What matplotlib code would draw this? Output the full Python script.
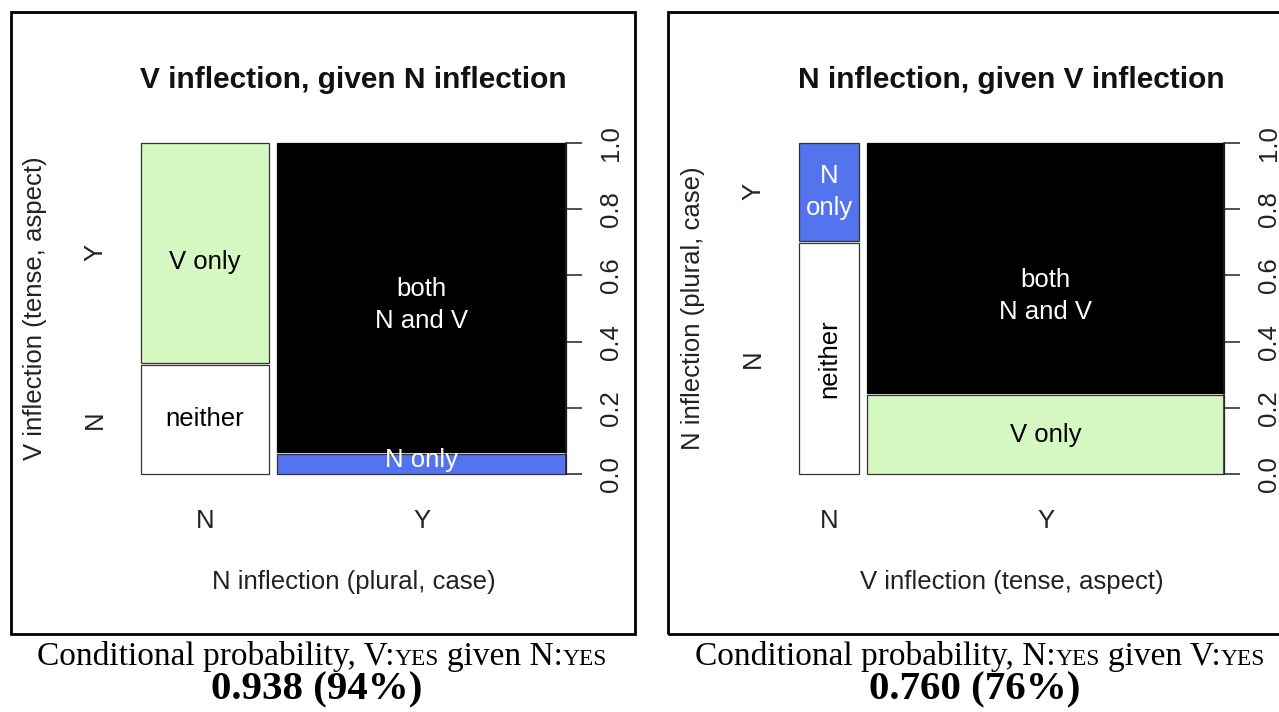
import matplotlib
matplotlib.use('Agg')
import matplotlib.pyplot as plt
from matplotlib.patches import Rectangle

W, H = 1279, 712
SANS = 'Liberation Sans'
SERIF = 'Liberation Serif'

# joint proportions: rows = N inflection (no, yes), cols = V inflection (no, yes)
levels = ['N', 'Y']
joint = [[0.102, 0.205],
         [0.043, 0.650]]
cell_names = [['neither', 'V only'],
              ['N only', 'both']]
cell_colors = {'neither': 'white', 'V only': '#d5f7c1', 'N only': '#5473ee', 'both': 'black'}
text_colors = {'neither': 'black', 'V only': 'black', 'N only': 'white', 'both': 'white'}

titles = ['V inflection, given N inflection', 'N inflection, given V inflection']
xlabels = ['N inflection (plural, case)', 'V inflection (tense, aspect)']
ylabels = ['V inflection (tense, aspect)', 'N inflection (plural, case)']
yticks = [0.0, 0.2, 0.4, 0.6, 0.8, 1.0]
cap_vars = [('V', 'N'), ('N', 'V')]
results = ['0.938 (94%)', '0.760 (76%)']

# layout in pixels
borders = [(11, 12, 635, 634), (668, 12, 1295, 634)]
axes_px = [(141, 143, 566, 474), (799, 143, 1224, 474)]
cap_cx = [322, 980]


def fx(x):
    return x / W


def fy(y):
    return 1 - y / H


def runs_text(fig, runs, cx, base_y, size, weight='normal'):
    r = fig.canvas.get_renderer()
    objs = []
    for s, scale in runs:
        if s is None:
            objs.append((None, scale * size * 100 / 72))
            continue
        t = fig.text(0, fy(base_y), s, fontsize=size * scale, family=SERIF,
                     weight=weight, va='baseline', ha='left')
        objs.append((t, t.get_window_extent(r).width))
    total = sum(w for _, w in objs)
    x = cx - total / 2
    for t, w in objs:
        if t is not None:
            t.set_x(fx(x))
        x += w


fig = plt.figure(figsize=(W / 100, H / 100), dpi=100)

for p in range(2):
    bx0, by0, bx1, by1 = borders[p]
    fig.patches.append(Rectangle((fx(bx0), fy(by1)), fx(bx1 - bx0), (by1 - by0) / H,
                                 transform=fig.transFigure, fill=False, lw=2, ec='black'))

    x0, y0, x1, y1 = axes_px[p]
    ax = fig.add_axes([fx(x0), fy(y1), fx(x1 - x0), (y1 - y0) / H])
    ax.set_xlim(0, 1)
    ax.set_ylim(0, 1)
    gapx = 8 / (x1 - x0)
    gapy = 2 / (y1 - y0)

    def prop(xi, yi):
        return joint[xi][yi] if p == 0 else joint[yi][xi]

    def name(xi, yi):
        return cell_names[xi][yi] if p == 0 else cell_names[yi][xi]

    shares = [prop(xi, 0) + prop(xi, 1) for xi in range(2)]
    total = sum(shares)
    left = 0
    col_centers = []
    first_col_centers = []
    for xi in range(2):
        w = shares[xi] / total * (1 - gapx)
        h0 = prop(xi, 0) / shares[xi] * (1 - gapy)
        spans = [(0, h0), (h0 + gapy, 1)]
        for yi in range(2):
            b, t = spans[yi]
            nm = name(xi, yi)
            ec = 'black' if nm == 'both' else '#333333'
            ax.add_patch(Rectangle((left, b), w, t - b, fc=cell_colors[nm], ec=ec, lw=0.9,
                                   clip_on=False))
            label = nm
            rot = 0
            if nm == 'both':
                label = 'both\nN and V'
            if w < 0.2:
                if nm == 'neither':
                    rot = 90
                else:
                    label = label.replace(' ', '\n')
            ty = (b + t) / 2
            if nm == 'both':
                ty = 0.5 + 0.15 * b
            elif nm == 'V only' and t > 0.9:
                ty -= 0.027
            elif nm == 'N only' and t < 0.1:
                ty += 0.01
            ax.text(left + w / 2, ty, label, ha='center', va='center', rotation=rot,
                    fontsize=18.5, family=SANS, color=text_colors[nm], linespacing=1.42)
            if xi == 0:
                first_col_centers.append((b + t) / 2)
        col_centers.append(left + w / 2)
        left += w + gapx

    for s in ['top', 'left', 'bottom']:
        ax.spines[s].set_visible(False)
    ax.spines['right'].set_color('#222222')
    ax.spines['right'].set_linewidth(1.1)
    ax.spines['right'].set_zorder(5)
    ax.set_xticks([])
    ax.yaxis.tick_right()
    ax.set_yticks(yticks)
    ax.set_yticklabels(['%.1f' % v for v in yticks])
    ax.tick_params(axis='y', length=16 * 0.72, width=1.1, color='#222222', pad=12,
                   labelsize=18.5, labelrotation=90)
    for lab in ax.get_yticklabels():
        lab.set_family(SANS)
        lab.set_va('center')
        lab.set_color('#222222')

    for xi in range(2):
        ax.annotate(levels[xi], (col_centers[xi], 0), xycoords=('data', 'axes fraction'),
                    xytext=(0, -47), textcoords='offset pixels', ha='center', va='center',
                    fontsize=18.5, family=SANS, color='#222222')
        ax.annotate(levels[xi], (0, first_col_centers[xi]), xycoords=('axes fraction', 'data'),
                    xytext=(-46, 0), textcoords='offset pixels', ha='center', va='center',
                    rotation=90, fontsize=18.5, family=SANS, color='#222222')

    cx = (x0 + x1) / 2
    fig.text(fx(cx), fy(y0 - 63), titles[p], ha='center', va='center', fontsize=21.5,
             weight='bold', family=SANS, color='#111111')
    fig.text(fx(cx), fy(y1 + 108), xlabels[p], ha='center', va='center', fontsize=18.5,
             family=SANS, color='#222222')
    fig.text(fx(x0 - 106), fy((y0 + y1) / 2), ylabels[p], ha='center', va='center',
             rotation=90, fontsize=18.5, family=SANS, color='#222222')

    a, b = cap_vars[p]
    runs = [('Conditional probability, ' + a + ':', 1.0), ('YES', 0.7), (None, 0.25),
            ('given ' + b + ':', 1.0), ('YES', 0.7)]
    runs_text(fig, runs, cap_cx[p], 665, 24)
    runs_text(fig, [(results[p], 1.0)], cap_cx[p] - 5, 699, 29.5, weight='bold')

fig.savefig('out.png', dpi=100)
